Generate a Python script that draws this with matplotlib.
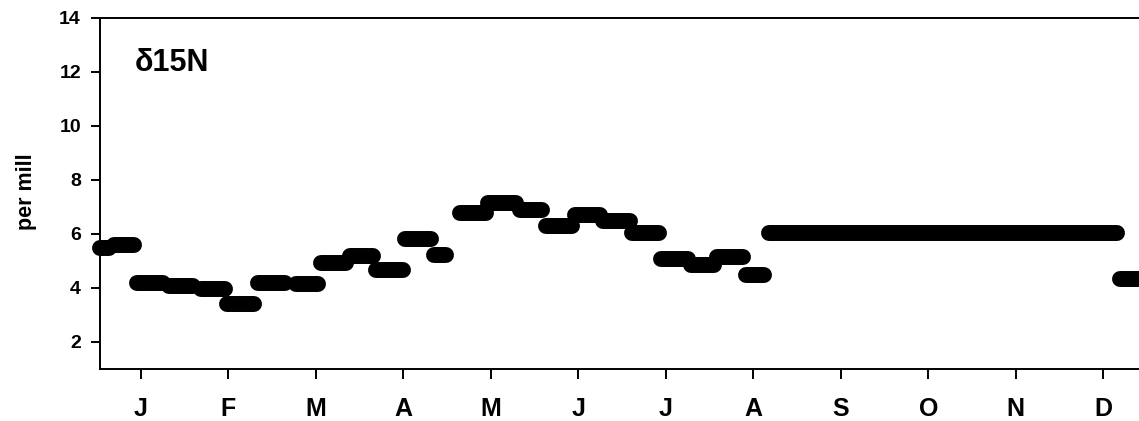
"""
Seasonal d15N step plot (per mill), one held value per sampling interval.
"""
import numpy as np
import matplotlib
matplotlib.use("Agg")
import matplotlib.pyplot as plt

plt.rcParams["font.family"] = ["Liberation Sans", "DejaVu Sans"]
plt.rcParams["font.weight"] = "bold"

# sampling intervals (day of year) and the value held over each one
seg_start = [1, 6, 14, 25, 36, 45, 56, 69, 78, 88, 97, 107, 117,
             126, 136, 147, 156, 166, 176, 186, 196, 206.5, 215.5, 225.5,
             233.5, 355.5]
seg_end = [4, 12.7, 23, 33.5, 44.3, 54.4, 65.4, 76.7, 86.6, 95.9, 106.2,
           116.2, 121.3, 135.2, 145.6, 154.5, 165, 174.9, 185.1, 195.2,
           205.3, 214.5, 224.7, 231.9, 354.5, 366]
d15n = [5.48, 5.59, 4.20, 4.09, 3.96, 3.42, 4.17, 4.14, 4.94, 5.20, 4.67,
        5.81, 5.23, 6.77, 7.14, 6.89, 6.28, 6.72, 6.47, 6.03, 5.09, 4.86,
        5.16, 4.47, 6.05, 4.34]

month_labels = ["J", "F", "M", "A", "M", "J", "J", "A", "S", "O", "N", "D"]
y_ticks = [2, 4, 6, 8, 10, 12, 14]

dpi = 100
fig = plt.figure(figsize=(11.39, 4.21), dpi=dpi)
ax = fig.add_axes([100 / 1139, 52 / 421, 1047 / 1139, 351 / 421])

for x0, x1, v in zip(seg_start, seg_end, d15n):
    ax.plot([x0, x1], [v, v], color="black", lw=11.5,
            solid_capstyle="round", clip_on=False)

ax.set_xlim(1, 365)
ax.set_ylim(1, 14)

# month ticks sit in the middle of each month
ax.set_xticks(15.2 + 30.42 * np.arange(12))
ax.set_xticklabels(month_labels, fontsize=18, fontweight="bold")
ax.set_yticks(y_ticks)
ax.set_yticklabels([str(t) for t in y_ticks], fontsize=14,
                   fontweight="bold")

ax.tick_params(axis="x", direction="out", length=7, width=1.4, pad=13)
ax.tick_params(axis="y", direction="out", length=6.7, width=1.4, pad=7)

for side in ["left", "bottom", "top"]:
    ax.spines[side].set_linewidth(1.4)
ax.spines["right"].set_visible(False)

ax.set_ylabel("per mill", fontsize=15.5, fontweight="bold")
ax.yaxis.set_label_coords(-0.06, 0.505)

ax.text(135 / 1139, 1 - 71 / 421, "\u03b415N", transform=fig.transFigure,
        fontsize=22, fontweight="bold", va="baseline", ha="left")

fig.savefig("out.png", dpi=dpi)
plt.close(fig)
